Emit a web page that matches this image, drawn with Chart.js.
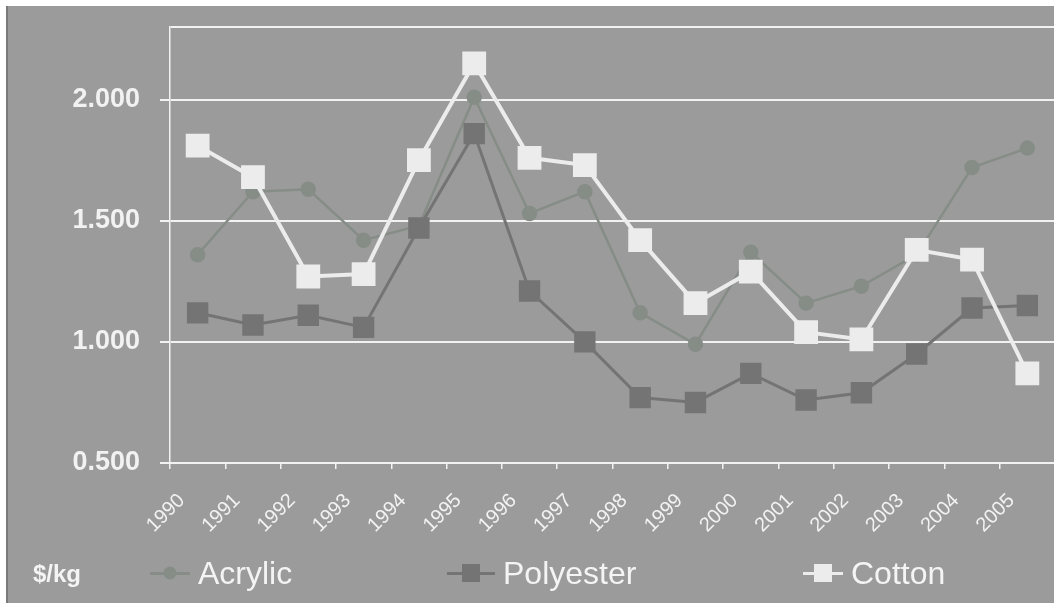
<!DOCTYPE html>
<html lang="en">
<head>
    <meta charset="UTF-8">
    <title>Fibre Prices</title>
    <script src="https://cdn.jsdelivr.net/npm/chart.js"></script>
    <style>
        body { margin: 0; background: #ffffff; font-family: "Liberation Sans", Arial, sans-serif; }
        .frame { position: relative; width: 1054px; height: 603px; overflow: hidden; }
        .panel { position: absolute; left: 6px; top: 6px; right: 0; bottom: 0; background: #9b9b9c; border-left: 2px solid #7a7a7a; }
        canvas { position: absolute; left: 0; top: 0; }
        .unit { position: absolute; left: 33px; top: 560px; color: #f4f4f4; font: bold 24px "Liberation Sans", Arial, sans-serif; }
        .item { position: absolute; top: 553px; color: #f4f4f4; font-size: 32px; display: flex; align-items: center; }
        .mark { position: relative; display: inline-block; height: 40px; margin-right: 8px; }
        .mark .ln { position: absolute; left: 0; right: 0; top: 19px; height: 3px; }
        .mark .pt { position: absolute; top: 50%; left: 50%; transform: translate(-50%, -50%); }
    </style>
</head>
<body>
<div class="frame">
    <div class="panel"></div>
    <!-- canvas is a bit wider than the frame: the x axis keeps ~19px right padding, so the plot runs off the edge like the original -->
    <canvas id="priceChart" width="1073" height="603"></canvas>
    <div class="unit">$/kg</div>
    <div class="item" style="left:150px">
        <span class="mark" style="width:40px"><span class="ln" style="background:#868d87"></span><span class="pt" style="width:13px;height:13px;border-radius:50%;background:#868d87"></span></span>Acrylic
    </div>
    <div class="item" style="left:447px">
        <span class="mark" style="width:48px"><span class="ln" style="background:#747474"></span><span class="pt" style="width:18px;height:18px;background:#747474"></span></span>Polyester
    </div>
    <div class="item" style="left:803px">
        <span class="mark" style="width:40px"><span class="ln" style="background:#ececec"></span><span class="pt" style="width:18px;height:18px;background:#ececec"></span></span>Cotton
    </div>
</div>
<script>
    const years = ["1990", "1991", "1992", "1993", "1994", "1995", "1996", "1997",
                   "1998", "1999", "2000", "2001", "2002", "2003", "2004", "2005"];
    const acrylic   = [1.36, 1.62, 1.63, 1.42, 1.48, 2.01, 1.53, 1.62, 1.12, 0.99, 1.37, 1.16, 1.23, 1.36, 1.72, 1.80];
    const polyester = [1.12, 1.07, 1.11, 1.06, 1.47, 1.86, 1.21, 1.00, 0.77, 0.75, 0.87, 0.76, 0.79, 0.95, 1.14, 1.15];
    const cotton    = [1.81, 1.68, 1.27, 1.28, 1.75, 2.15, 1.76, 1.73, 1.42, 1.16, 1.29, 1.04, 1.01, 1.38, 1.34, 0.87];
    const yMin = 0.5, yMax = 2.3, yStep = 0.5;

    const white = "#f2f2f2";

    new Chart(document.getElementById("priceChart"), {
        type: "line",
        data: {
            labels: years,
            datasets: [
                { label: "Acrylic", data: acrylic, borderColor: "#868d87", backgroundColor: "#868d87",
                  borderWidth: 2.5, pointStyle: "circle", pointRadius: 6.5, order: 2 },
                { label: "Polyester", data: polyester, borderColor: "#747474", backgroundColor: "#747474",
                  borderWidth: 3, pointStyle: "rect", pointRadius: 13, order: 1 },
                { label: "Cotton", data: cotton, borderColor: "#ececec", backgroundColor: "#ececec",
                  borderWidth: 4, pointStyle: "rect", pointRadius: 14, order: 0 }
            ]
        },
        options: {
            responsive: false,
            animation: false,
            layout: { padding: { top: 27, right: 0, left: 0, bottom: 0 } },
            plugins: { legend: { display: false }, tooltip: { enabled: false } },
            elements: { line: { tension: 0 }, point: { borderWidth: 0 } },
            scales: {
                x: {
                    offset: true,
                    afterFit: (scale) => { scale.height = 140; scale.paddingLeft = 0; scale.paddingRight = 0; },
                    grid: { offset: true, drawOnChartArea: false, drawTicks: true, tickLength: 6, color: white, lineWidth: 1.5 },
                    border: { display: true, color: white, width: 2 },
                    ticks: {
                        autoSkip: false, minRotation: 45, maxRotation: 45,
                        color: white, labelOffset: -16, padding: 20,
                        font: { family: "Liberation Sans", size: 20 }
                    }
                },
                y: {
                    min: yMin, max: yMax,
                    afterFit: (scale) => { scale.width = 170; scale.paddingTop = 0; scale.paddingBottom = 0; },
                    grid: {
                        color: white, lineWidth: 2, tickLength: 10,
                        tickColor: (ctx) => (ctx.tick && Math.abs(ctx.tick.value - yMax) < 1e-6) ? "transparent" : white
                    },
                    border: { display: true, color: white, width: 1.5 },
                    ticks: {
                        stepSize: yStep, color: white, padding: 20,
                        font: { family: "Liberation Sans", size: 27, weight: "bold" },
                        callback: (v) => (Math.abs(v / yStep - Math.round(v / yStep)) < 1e-6 ? Number(v).toFixed(3) : "")
                    }
                }
            }
        }
    });
</script>
</body>
</html>
